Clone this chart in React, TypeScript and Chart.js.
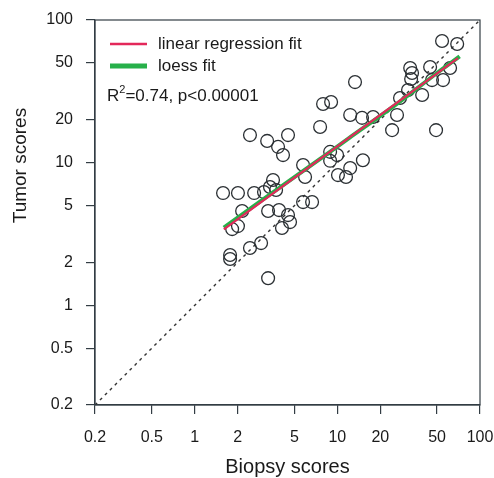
import React, { useEffect, useRef } from 'react';
import { Chart, registerables } from 'chart.js';

Chart.register(...registerables);

const biopsyScores = [54.2, 69.2, 32.4, 33.4, 32.9, 44.7, 61.7, 55.1, 46.1, 39.3, 31.3, 27.5, 26.2, 24.2, 49.2, 13.3, 7.94, 9.04, 12.3, 14.9, 17.8, 7.57, 4.51, 8.9, 9.96, 8.9, 5.75, 5.94, 15.1, 12.3, 10.1, 11.5, 5.75, 6.65, 2.44, 3.22, 3.84, 4.16, 3.54, 3.37, 3.72, 1.58, 2.01, 2.61, 3.06, 2.15, 3.27, 3.9, 4.51, 4.66, 4.09, 1.83, 2.01, 2.44, 2.92, 1.77, 1.77, 3.27];
const tumorScores = [71.2, 67.9, 46.1, 42.5, 38.6, 46.8, 46.1, 37.9, 37.9, 29.8, 32.3, 28.4, 21.6, 16.9, 16.9, 36.7, 25.8, 26.6, 21.6, 20.6, 20.9, 17.8, 15.6, 11.9, 11.3, 10.3, 9.62, 7.93, 10.4, 9.16, 8.18, 7.93, 5.29, 5.29, 15.6, 14.2, 12.9, 11.3, 7.55, 6.75, 6.43, 6.12, 6.12, 6.12, 6.22, 4.58, 4.58, 4.65, 4.29, 3.83, 3.48, 3.42, 3.59, 2.52, 2.73, 2.25, 2.11, 1.55];

const tickValues = [0.2, 0.5, 1, 2, 5, 10, 20, 50, 100];
const identityLine = [0.2, 100];
const regressionX = [1.6, 70];
const regressionY = [3.4, 54];
const loessX = [1.6, 3, 6, 12, 25, 50, 72];
const loessY = [3.5, 5.5, 9.0, 14.8, 25.0, 42.5, 55.5];

const xTitle = 'Biopsy scores';
const yTitle = 'Tumor scores';
const legendLabels = ['linear regression fit', 'loess fit'];
const statsText = ['R', '2', '=0.74, p<0.00001'];

const FONT = '"Liberation Sans", Arial, Helvetica, sans-serif';
const RED = '#e3285a';
const GREEN = '#27b04a';
const INK = '#1a1a1a';
const AXIS = '#333d44';

const zip = (xs: number[], ys: number[]) => xs.map((x, i) => ({ x, y: ys[i] }));

const overlayPlugin = {
  id: 'overlay',
  afterDraw(chart: any) {
    const { ctx, chartArea } = chart;
    const { left, top, right, bottom } = chartArea;
    ctx.save();
    ctx.strokeStyle = AXIS;
    ctx.lineWidth = 1.2;
    ctx.strokeRect(left, top, right - left, bottom - top);

    const lx = left + 15;
    const ly1 = top + 24;
    const ly2 = top + 46;
    ctx.lineCap = 'butt';
    ctx.strokeStyle = RED;
    ctx.lineWidth = 2.5;
    ctx.beginPath();
    ctx.moveTo(lx, ly1);
    ctx.lineTo(lx + 37, ly1);
    ctx.stroke();
    ctx.strokeStyle = GREEN;
    ctx.lineWidth = 5;
    ctx.beginPath();
    ctx.moveTo(lx, ly2);
    ctx.lineTo(lx + 37, ly2);
    ctx.stroke();

    ctx.fillStyle = INK;
    ctx.font = `17px ${FONT}`;
    ctx.textBaseline = 'middle';
    ctx.textAlign = 'left';
    ctx.fillText(legendLabels[0], lx + 48, ly1);
    ctx.fillText(legendLabels[1], lx + 48, ly2);

    const sx = left + 12;
    const sy = top + 76;
    ctx.font = `17px ${FONT}`;
    ctx.fillText(statsText[0], sx, sy);
    const w0 = ctx.measureText(statsText[0]).width;
    ctx.font = `11px ${FONT}`;
    ctx.fillText(statsText[1], sx + w0, sy - 6);
    const w1 = ctx.measureText(statsText[1]).width;
    ctx.font = `17px ${FONT}`;
    ctx.fillText(statsText[2], sx + w0 + w1, sy);

    ctx.save();
    ctx.translate(21, top + (bottom - top) * 0.378);
    ctx.rotate(-Math.PI / 2);
    ctx.textAlign = 'center';
    ctx.textBaseline = 'middle';
    ctx.font = `19px ${FONT}`;
    ctx.fillStyle = INK;
    ctx.fillText(yTitle, 0, 0);
    ctx.restore();

    ctx.restore();
  },
};

export default function App() {
  const canvasRef = useRef<HTMLCanvasElement | null>(null);

  useEffect(() => {
    if (!canvasRef.current) return;
    const tickFont = { family: FONT, size: 16 };
    const chart = new Chart(canvasRef.current, {
      type: 'scatter',
      data: {
        datasets: [
          {
            label: legendLabels[0],
            data: zip(regressionX, regressionY),
            showLine: true,
            borderColor: RED,
            borderWidth: 2.2,
            pointRadius: 0,
            order: 0,
          },
          {
            label: legendLabels[1],
            data: zip(loessX, loessY),
            showLine: true,
            borderColor: GREEN,
            borderWidth: 4,
            tension: 0.3,
            pointRadius: 0,
            order: 1,
          },
          {
            label: 'samples',
            data: zip(biopsyScores, tumorScores),
            pointRadius: 6.4,
            pointBorderWidth: 1.3,
            pointBorderColor: '#2a2f33',
            pointBackgroundColor: 'rgba(0,0,0,0)',
            order: 2,
          },
          {
            label: 'identity',
            data: zip(identityLine, identityLine),
            showLine: true,
            borderColor: '#333333',
            borderWidth: 1.4,
            borderDash: [3, 4],
            pointRadius: 0,
            order: 3,
          },
        ],
      },
      options: {
        responsive: false,
        animation: false,
        events: [],
        layout: { padding: { top: 20, right: 14, left: 0, bottom: 0 }, autoPadding: false },
        plugins: { legend: { display: false }, tooltip: { enabled: false } },
        scales: {
          x: {
            type: 'logarithmic',
            min: 0.2,
            max: 100,
            afterBuildTicks: (scale: any) => {
              scale.ticks = tickValues.map((v) => ({ value: v }));
            },
            afterFit: (scale: any) => {
              scale.height = 73;
              scale.paddingLeft = 0;
              scale.paddingRight = 0;
            },
            ticks: {
              autoSkip: false,
              maxRotation: 0,
              padding: 14,
              font: tickFont,
              color: INK,
              callback: (v: any) => String(v),
            },
            grid: { drawOnChartArea: false, drawTicks: true, tickLength: 9, color: AXIS, lineWidth: 1.2 },
            border: { display: true, color: AXIS, width: 1.2 },
            title: {
              display: true,
              text: xTitle,
              font: { family: FONT, size: 20 },
              color: INK,
              padding: { top: 0, bottom: -1 },
            },
          },
          y: {
            type: 'logarithmic',
            min: 0.2,
            max: 100,
            afterBuildTicks: (scale: any) => {
              scale.ticks = tickValues.map((v) => ({ value: v }));
            },
            afterFit: (scale: any) => {
              scale.width = 95;
              scale.paddingTop = 0;
              scale.paddingBottom = 0;
            },
            ticks: {
              autoSkip: false,
              padding: 13,
              font: tickFont,
              color: INK,
              callback: (v: any) => String(v),
            },
            grid: { drawOnChartArea: false, drawTicks: true, tickLength: 9, color: AXIS, lineWidth: 1.2 },
            border: { display: true, color: AXIS, width: 1.2 },
          },
        },
      },
      plugins: [overlayPlugin],
    } as any);
    return () => chart.destroy();
  }, []);

  return (
    <div style={{ position: 'fixed', left: 0, top: 0, width: 494, height: 478, background: '#ffffff' }}>
      <canvas ref={canvasRef} width={494} height={478} />
    </div>
  );
}
